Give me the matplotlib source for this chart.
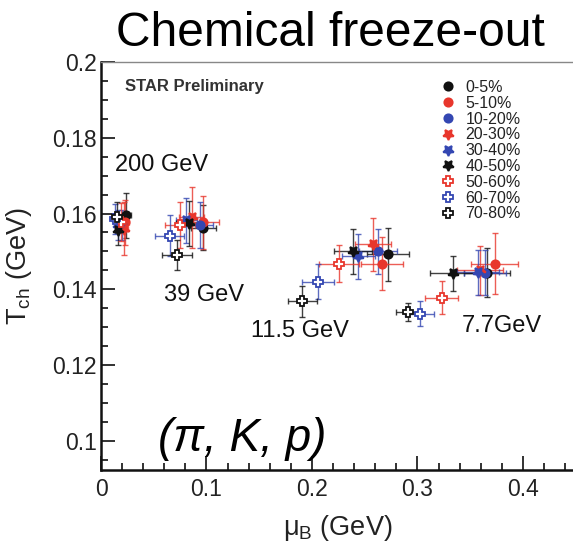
import matplotlib
matplotlib.use('Agg')
import matplotlib.pyplot as plt
from matplotlib.lines import Line2D

plt.rcParams['font.family'] = ['Liberation Sans', 'DejaVu Sans']
plt.rcParams['mathtext.fontset'] = 'custom'
plt.rcParams['mathtext.rm'] = 'Liberation Sans'

centralities = ['0-5%', '5-10%', '10-20%', '20-30%', '30-40%', '40-50%',
                '50-60%', '60-70%', '70-80%']
energies = ['200 GeV', '39 GeV', '11.5 GeV', '7.7GeV']

# mu_B (GeV) per centrality, one list per energy
mu_200 = [0.024, 0.023, 0.020, 0.022, 0.016, 0.016, 0.019, 0.013, 0.015]
mu_39 = [0.097, 0.097, 0.094, 0.086, 0.081, 0.083, 0.075, 0.065, 0.072]
mu_11 = [0.272, 0.266, 0.263, 0.258, 0.244, 0.239, 0.226, 0.206, 0.191]
mu_7 = [0.366, 0.373, 0.364, 0.359, 0.357, 0.334, 0.323, 0.302, 0.291]

# T_ch (GeV)
t_200 = [0.1595, 0.1577, 0.157, 0.156, 0.157, 0.1556, 0.1577, 0.1585, 0.159]
t_39 = [0.1563, 0.1577, 0.157, 0.159, 0.1582, 0.1574, 0.157, 0.1542, 0.149]
t_11 = [0.1492, 0.1468, 0.150, 0.1519, 0.1487, 0.150, 0.1468, 0.142, 0.1368]
t_7 = [0.1444, 0.1468, 0.1444, 0.145, 0.1445, 0.1442, 0.1378, 0.1336, 0.1341]

# errors
mu_err_200 = [0.004, 0.004, 0.003, 0.004, 0.003, 0.003, 0.004, 0.003, 0.003]
mu_err_39 = [0.012, 0.015, 0.012, 0.012, 0.010, 0.012, 0.014, 0.014, 0.014]
mu_err_11 = [0.020, 0.020, 0.018, 0.017, 0.016, 0.018, 0.019, 0.015, 0.0135]
mu_err_7 = [0.022, 0.022, 0.020, 0.022, 0.020, 0.022, 0.0156, 0.014, 0.011]

t_err_200 = [0.006, 0.006, 0.004, 0.007, 0.004, 0.004, 0.005, 0.004, 0.004]
t_err_39 = [0.006, 0.007, 0.006, 0.008, 0.006, 0.006, 0.006, 0.0053, 0.004]
t_err_11 = [0.007, 0.007, 0.006, 0.007, 0.006, 0.006, 0.005, 0.0046, 0.004]
t_err_7 = [0.0064, 0.008, 0.006, 0.0064, 0.006, 0.0046, 0.0044, 0.0033, 0.0024]

mu_all = [mu_200, mu_39, mu_11, mu_7]
t_all = [t_200, t_39, t_11, t_7]
mu_err_all = [mu_err_200, mu_err_39, mu_err_11, mu_err_7]
t_err_all = [t_err_200, t_err_39, t_err_11, t_err_7]

black = '#111111'
red = '#e8362c'
blue = '#3447b2'
colors = [black, red, blue, red, blue, black, red, blue, black]
star = (5, 1, 180)
markers = ['o', 'o', 'o', star, star, star, 'P', 'P', 'P']
sizes = [6, 6, 6, 8, 8, 8, 7, 7, 7]
filled = [True] * 6 + [False] * 3

fig = plt.figure(figsize=(5.73, 5.47), dpi=100)
ax = fig.add_axes([101 / 573, 1 - 470 / 547, 499 / 573, 408 / 547])

for i in range(len(centralities)):
    fc = colors[i] if filled[i] else 'white'
    for e in range(len(energies)):
        ax.errorbar(mu_all[e][i], t_all[e][i], xerr=mu_err_all[e][i],
                    yerr=t_err_all[e][i], fmt='none', ecolor=colors[i],
                    alpha=0.8, elinewidth=1.0, capsize=2.5, capthick=1.0,
                    zorder=2)
    ax.plot([mu_all[e][i] for e in range(4)], [t_all[e][i] for e in range(4)],
            ls='none', marker=markers[i], ms=sizes[i],
            mfc=fc, mec=colors[i], mew=1.3, zorder=3)

ax.set_xlim(0, 0.473)
ax.set_ylim(0.0923, 0.2)
ax.set_xticks([0, 0.1, 0.2, 0.3, 0.4])
ax.set_xticklabels(['0', '0.1', '0.2', '0.3', '0.4'])
ax.set_yticks([0.1, 0.12, 0.14, 0.16, 0.18, 0.2])
ax.set_yticklabels(['0.1', '0.12', '0.14', '0.16', '0.18', '0.2'])
ax.set_xticks([x / 100 for x in range(0, 48, 2)], minor=True)
ax.set_yticks([0.095 + 0.005 * k for k in range(21)], minor=True)
ax.tick_params(which='both', direction='in', colors='#222222', labelsize=16.5,
               width=1.3, top=False, right=False)
ax.tick_params(which='major', length=10)
ax.tick_params(which='minor', length=5)
ax.tick_params(axis='x', pad=6)
ax.tick_params(axis='y', pad=3)
for side in ['left', 'bottom']:
    ax.spines[side].set_linewidth(1.8)
    ax.spines[side].set_color('#111111')
ax.spines['top'].set_linewidth(1.0)
ax.spines['top'].set_color('#888888')
ax.spines['right'].set_visible(False)

ax.set_ylabel('T$_\\mathregular{ch}$ (GeV)', fontsize=19.5, color='#222222')
ax.yaxis.set_label_coords(-0.135, 0.5)
ax.set_xlabel('\u03bc$_\\mathregular{B}$ (GeV)', fontsize=19.5, color='#222222')
ax.xaxis.set_label_coords((338 - 101) / 499, -0.105)

fig.text(330 / 573, 1 - 33 / 547, 'Chemical freeze-out', fontsize=34.5,
         ha='center', va='center')

ax.text(0.023, 0.1935, 'STAR Preliminary', fontsize=12, fontweight='bold',
        color='#333333', ha='left', va='center')
label_pos = [(0.013, 0.1727), (0.06, 0.1386), (0.142, 0.1290), (0.342, 0.1302)]
for name, (x, y) in zip(energies, label_pos):
    ax.text(x, y, name, fontsize=17, ha='left', va='center', color='#111111')
ax.text(0.134, 0.1005, '(\u03c0, K, p)', fontsize=33, style='italic',
        ha='center', va='center')

handles = []
for i in range(len(centralities)):
    fc = colors[i] if filled[i] else 'white'
    handles.append(Line2D([], [], ls='none', marker=markers[i],
                          ms=sizes[i], mfc=fc, mec=colors[i], mew=1.3))
fig.legend(handles, centralities, loc='upper left',
           bbox_to_anchor=(432 / 573, 1 - 72 / 547), frameon=False,
           fontsize=11.5, handlelength=1.0, handletextpad=0.6,
           labelspacing=0.05, borderpad=0, labelcolor='#222222')

fig.savefig('out.png', dpi=100)
